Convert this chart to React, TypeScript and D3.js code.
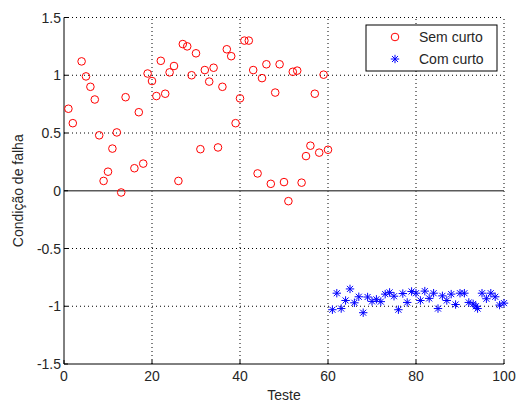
import React from 'react'
import * as d3 from 'd3'

// Sem curto (red circles)
const redX = [1, 2, 4, 5, 6, 7, 8, 9, 10, 11, 12, 13, 14, 16, 17, 18, 19, 20, 21, 22, 23, 24, 25, 26, 27, 28, 29, 30,
  31, 32, 33, 34, 35, 36, 37, 38, 39, 40, 41, 42, 43, 44, 45, 46, 47, 48, 49, 50, 51, 52, 53, 54, 55, 56, 57, 58, 59, 60]
const redY = [0.71, 0.585, 1.12, 0.99, 0.9, 0.79, 0.48, 0.085, 0.165, 0.365, 0.505, -0.015, 0.81, 0.195, 0.68, 0.235,
  1.015, 0.95, 0.82, 1.125, 0.84, 1.025, 1.08, 0.085, 1.27, 1.25, 1.0, 1.19, 0.36, 1.045, 0.945, 1.065, 0.375, 0.9,
  1.225, 1.165, 0.585, 0.8, 1.3, 1.3, 1.045, 0.15, 0.975, 1.095, 0.06, 0.85, 1.095, 0.075, -0.09, 1.03, 1.04, 0.07,
  0.3, 0.39, 0.84, 0.33, 1.005, 0.355]

// Com curto (blue stars)
const blueX = [61, 62, 63, 64, 65, 66, 67, 68, 69, 70, 71, 72, 73, 74, 75, 76, 77, 78, 79, 80, 81, 82, 83, 84, 85, 86,
  87, 88, 89, 90, 91, 92, 93, 93.6, 94, 95, 96, 97, 98, 99, 100]
const blueY = [-1.03, -0.887, -1.02, -0.95, -0.85, -0.97, -0.918, -1.056, -0.92, -0.958, -0.94, -0.96, -0.895, -0.88,
  -0.913, -1.03, -0.89, -0.967, -0.872, -0.887, -0.95, -0.869, -0.932, -0.887, -1.02, -0.91, -0.95, -0.895, -0.985,
  -0.887, -0.887, -0.967, -0.98, -1.0, -1.02, -0.887, -0.935, -0.887, -0.918, -0.99, -0.973]

const xTicks = [0, 20, 40, 60, 80, 100]
const yTicks = [-1.5, -1, -0.5, 0, 0.5, 1, 1.5]
const legendLabels = ['Sem curto', 'Com curto']

const W = 516, H = 403
const font = 'Arial, "Liberation Sans", Helvetica, sans-serif'

const star = (cx: number, cy: number, r: number) => {
  const d = r * 0.72
  return `M${cx - r},${cy}H${cx + r}M${cx},${cy - r}V${cy + r}` +
    `M${cx - d},${cy - d}L${cx + d},${cy + d}M${cx - d},${cy + d}L${cx + d},${cy - d}`
}

export default function App() {
  const x = d3.scaleLinear().domain([0, 100]).range([64, 504])
  const y = d3.scaleLinear().domain([-1.5, 1.5]).range([364, 17.5])
  const fmt = (v: number) => String(v)

  return (
    <svg width={W} height={H} style={{ position: 'absolute', left: 0, top: 0, background: '#fff' }}
      fontFamily={font}>
      <rect width={W} height={H} fill="#fff" />
      {/* dotted grid */}
      <g stroke="#000" strokeWidth={1} strokeDasharray="1,3">
        {xTicks.filter(t => t > 0).map(t => (
          <line key={'gx' + t} x1={x(t)} x2={x(t)} y1={y(-1.5)} y2={y(1.5)} />
        ))}
        {yTicks.filter(t => t > -1.5 && t !== 0).map(t => (
          <line key={'gy' + t} x1={x(0)} x2={x(100)} y1={y(t)} y2={y(t)} />
        ))}
      </g>
      {/* zero line */}
      <line x1={x(0)} x2={x(100)} y1={y(0)} y2={y(0)} stroke="#5a5a5a" strokeWidth={1.4} />

      {/* axes */}
      <g stroke="#000" strokeWidth={1} fill="none">
        <line x1={x(0)} x2={x(0)} y1={y(-1.5)} y2={y(1.5)} />
        <line x1={x(0)} x2={x(100)} y1={y(-1.5)} y2={y(-1.5)} />
        {xTicks.map(t => <line key={'tx' + t} x1={x(t)} x2={x(t)} y1={y(-1.5)} y2={y(-1.5) - 4} />)}
        {yTicks.map(t => <line key={'ty' + t} x1={x(0)} x2={x(0) + 4} y1={y(t)} y2={y(t)} />)}
      </g>
      <g fontSize={14} fill="#262626">
        {xTicks.map(t => (
          <text key={'lx' + t} x={x(t)} y={y(-1.5) + 17} textAnchor="middle">{fmt(t)}</text>
        ))}
        {yTicks.map(t => (
          <text key={'ly' + t} x={x(0) - 3} y={y(t) + 5} textAnchor="end">{fmt(t)}</text>
        ))}
        <text x={(x(0) + x(100)) / 2} y={400} textAnchor="middle">Teste</text>
        <text transform={`translate(23,${(y(-1.5) + y(1.5)) / 2}) rotate(-90)`} textAnchor="middle">Condição de falha</text>
      </g>

      {/* data */}
      <g fill="none" stroke="#ff0000" strokeWidth={1}>
        {redX.map((v, i) => <circle key={'r' + i} cx={x(v)} cy={y(redY[i])} r={3.8} />)}
      </g>
      <g fill="none" stroke="#0000ff" strokeWidth={1}>
        {blueX.map((v, i) => <path key={'b' + i} d={star(x(v), y(blueY[i]), 4.2)} />)}
      </g>

      {/* legend */}
      <g>
        <rect x={366} y={25} width={131} height={46} fill="#fff" stroke="#000" strokeWidth={1} />
        <circle cx={395} cy={37} r={3.8} fill="none" stroke="#ff0000" />
        <path d={star(395, 59, 4.2)} stroke="#0000ff" fill="none" />
        <g fontSize={14} fill="#262626">
          <text x={419} y={42}>{legendLabels[0]}</text>
          <text x={419} y={64}>{legendLabels[1]}</text>
        </g>
      </g>
    </svg>
  )
}
